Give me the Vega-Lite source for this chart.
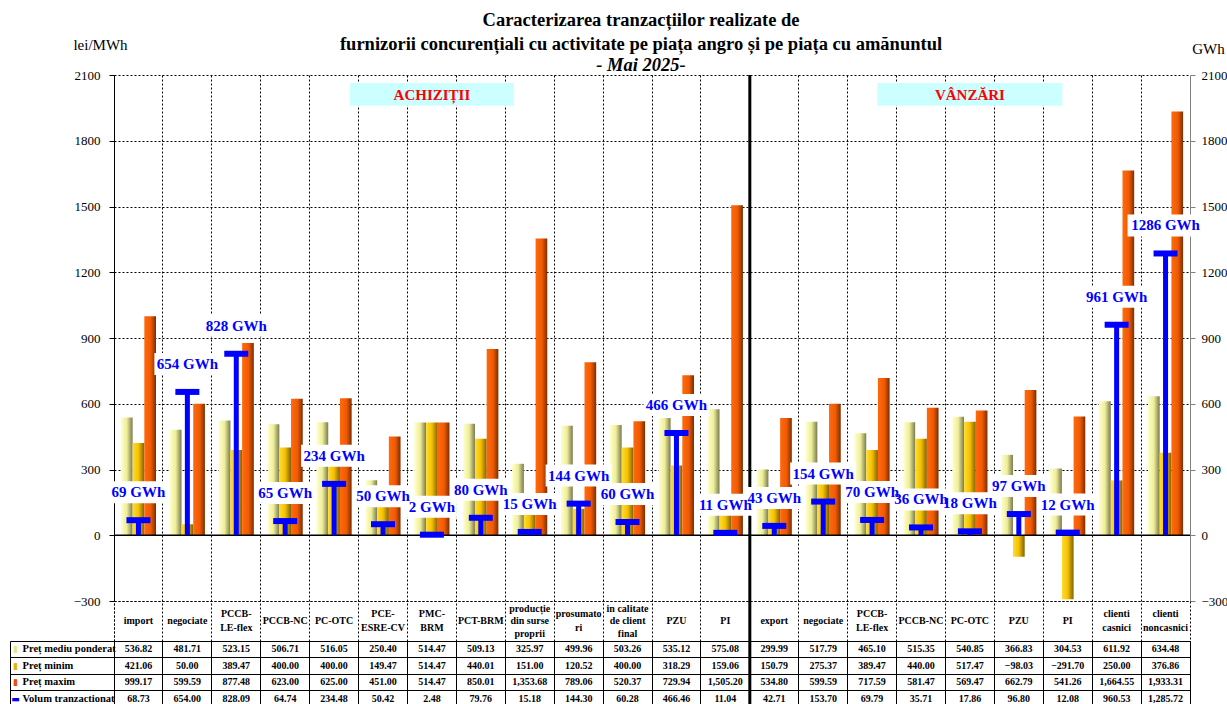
{
  "$schema": "https://vega.github.io/schema/vega-lite/v6.json",
  "background": "white",
  "padding": {"left": 9, "top": 11, "right": 0, "bottom": 0},
  "autosize": {"type": "pad"},
  "config": {
    "font": "Liberation Serif",
    "view": {"stroke": null},
    "axis": {"labelFont": "Liberation Serif", "titleFont": "Liberation Serif"}
  },
  "title": {
    "text": ["Caracterizarea tranzacțiilor realizate de", "furnizorii concurențiali cu activitate pe piața angro și pe piața cu amănuntul"],
    "subtitle": "- Mai 2025-",
    "anchor": "middle",
    "frame": "group",
    "dx": -11,
    "offset": -37,
    "font": "Liberation Serif",
    "fontSize": 18.5,
    "fontWeight": "bold",
    "lineHeight": 24,
    "color": "#000",
    "subtitleFont": "Liberation Serif",
    "subtitleFontSize": 18.5,
    "subtitleFontStyle": "italic",
    "subtitleFontWeight": "bold",
    "subtitleColor": "#000",
    "subtitlePadding": 2
  },
  "datasets": {
    "cats": [
      {"id": "A1", "label": "import", "mean": 536.82, "min": 421.06, "max": 999.17, "vol": 68.73},
      {"id": "A2", "label": "negociate", "mean": 481.71, "min": 50.00, "max": 599.59, "vol": 654.00},
      {"id": "A3", "label": "PCCB-|LE-flex", "mean": 523.15, "min": 389.47, "max": 877.48, "vol": 828.09},
      {"id": "A4", "label": "PCCB-NC", "mean": 506.71, "min": 400.00, "max": 623.00, "vol": 64.74},
      {"id": "A5", "label": "PC-OTC", "mean": 516.05, "min": 400.00, "max": 625.00, "vol": 234.48},
      {"id": "A6", "label": "PCE-|ESRE-CV", "mean": 250.40, "min": 149.47, "max": 451.00, "vol": 50.42},
      {"id": "A7", "label": "PMC-|BRM", "mean": 514.47, "min": 514.47, "max": 514.47, "vol": 2.48},
      {"id": "A8", "label": "PCT-BRM", "mean": 509.13, "min": 440.01, "max": 850.01, "vol": 79.76},
      {"id": "A9", "label": "producție|din surse|proprii", "mean": 325.97, "min": 151.00, "max": 1353.68, "vol": 15.18},
      {"id": "A10", "label": "prosumato|ri", "mean": 499.96, "min": 120.52, "max": 789.06, "vol": 144.30},
      {"id": "A11", "label": "in calitate|de client|final", "mean": 503.26, "min": 400.00, "max": 520.37, "vol": 60.28},
      {"id": "A12", "label": "PZU", "mean": 535.12, "min": 318.29, "max": 729.94, "vol": 466.46},
      {"id": "A13", "label": "PI", "mean": 575.08, "min": 159.06, "max": 1505.20, "vol": 11.04},
      {"id": "V1", "label": "export", "mean": 299.99, "min": 150.79, "max": 534.80, "vol": 42.71},
      {"id": "V2", "label": "negociate", "mean": 517.79, "min": 275.37, "max": 599.59, "vol": 153.70},
      {"id": "V3", "label": "PCCB-|LE-flex", "mean": 465.10, "min": 389.47, "max": 717.59, "vol": 69.79},
      {"id": "V4", "label": "PCCB-NC", "mean": 515.35, "min": 440.00, "max": 581.47, "vol": 35.71},
      {"id": "V5", "label": "PC-OTC", "mean": 540.85, "min": 517.47, "max": 569.47, "vol": 17.86},
      {"id": "V6", "label": "PZU", "mean": 366.83, "min": -98.03, "max": 662.79, "vol": 96.80},
      {"id": "V7", "label": "PI", "mean": 304.53, "min": -291.70, "max": 541.26, "vol": 12.08},
      {"id": "V8", "label": "clienti|casnici", "mean": 611.92, "min": 250.00, "max": 1664.55, "vol": 960.53},
      {"id": "V9", "label": "clienti|noncasnici", "mean": 634.48, "min": 376.86, "max": 1933.31, "vol": 1285.72}
    ],
    "sep": [{"id": "V1"}],
    "anno": [
      {"id": "A7", "txt": "ACHIZIȚII", "side": "A"},
      {"id": "V5", "txt": "VÂNZĂRI", "side": "V"}
    ]
  },
  "spacing": 0,
  "bounds": "flush",
  "vconcat": [
    {
      "width": 1076,
      "height": 526,
      "layer": [
        {
          "data": {"name": "cats"},
          "transform": [{"fold": ["mean", "min", "max"], "as": ["serie", "val"]}, {"filter": "datum.serie === 'mean'"}],
          "mark": {"type": "bar", "color": {"gradient": "linear", "x1": 0, "y1": 0, "x2": 1, "y2": 0, "stops": [{"offset": 0, "color": "#ffffcc"}, {"offset": 0.5, "color": "#eeee99"}, {"offset": 1, "color": "#7a7a50"}]}},
          "encoding": {
            "x": {"field": "id", "type": "nominal", "sort": null,
              "scale": {"type": "band", "domain": ["A1","A2","A3","A4","A5","A6","A7","A8","A9","A10","A11","A12","A13","V1","V2","V3","V4","V5","V6","V7","V8","V9"], "paddingInner": 0, "paddingOuter": 0},
              "axis": {"grid": true, "bandPosition": 0, "gridColor": "#000", "gridDash": [2, 2], "gridWidth": 1, "labels": false, "ticks": false, "domain": false, "title": null}},
            "xOffset": {"field": "serie", "type": "nominal", "scale": {"domain": ["mean", "min", "max"], "paddingInner": 0, "paddingOuter": 0.59}},
            "y": {"field": "val", "type": "quantitative",
              "scale": {"domain": [-300, 2100], "nice": false, "zero": false},
              "axis": {"orient": "left", "values": [-300, 0, 300, 600, 900, 1200, 1500, 1800, 2100], "format": "d", "grid": true, "gridColor": "#000", "gridDash": [2, 2], "gridWidth": 1, "domainColor": "#000", "tickColor": "#000", "tickSize": 5, "labelFontSize": 13, "labelPadding": 9, "labelColor": "#000", "title": "lei/MWh", "titleAngle": 0, "titleX": -14, "titleY": -31, "titleAlign": "center", "titleBaseline": "middle", "titleFontSize": 15, "titleFontWeight": "normal", "titleColor": "#000"}}
          }
        },
        {
          "data": {"name": "cats"},
          "transform": [{"fold": ["mean", "min", "max"], "as": ["serie", "val"]}, {"filter": "datum.serie === 'min'"}],
          "mark": {"type": "bar", "color": {"gradient": "linear", "x1": 0, "y1": 0, "x2": 1, "y2": 0, "stops": [{"offset": 0, "color": "#ffdd33"}, {"offset": 0.5, "color": "#f5c000"}, {"offset": 1, "color": "#806000"}]}},
          "encoding": {
            "x": {"field": "id", "type": "nominal"},
            "xOffset": {"field": "serie", "type": "nominal"},
            "y": {"field": "val", "type": "quantitative", "axis": null}
          }
        },
        {
          "data": {"name": "cats"},
          "transform": [{"fold": ["mean", "min", "max"], "as": ["serie", "val"]}, {"filter": "datum.serie === 'max'"}],
          "mark": {"type": "bar", "color": {"gradient": "linear", "x1": 0, "y1": 0, "x2": 1, "y2": 0, "stops": [{"offset": 0, "color": "#ff6a10"}, {"offset": 0.55, "color": "#f05a00"}, {"offset": 1, "color": "#7a2e00"}]}},
          "encoding": {
            "x": {"field": "id", "type": "nominal"},
            "xOffset": {"field": "serie", "type": "nominal"},
            "y": {"field": "val", "type": "quantitative", "axis": null}
          }
        },
        {
          "data": {"values": [{}]},
          "mark": {"type": "rule", "color": "#000", "strokeWidth": 1.5},
          "encoding": {"y": {"datum": 0, "type": "quantitative", "axis": null}}
        },
        {
          "data": {"name": "cats"},
          "mark": {"type": "rule", "color": "#0000ff", "strokeWidth": 5},
          "encoding": {
            "x": {"field": "id", "type": "nominal"},
            "y": {"field": "vol", "type": "quantitative",
              "axis": {"orient": "right", "values": [-300, 0, 300, 600, 900, 1200, 1500, 1800, 2100], "format": "d", "grid": false, "domainColor": "#808080", "tickColor": "#808080", "tickSize": 5, "labelPadding": 6, "labelFontSize": 13, "labelColor": "#000", "title": "GWh", "titleAngle": 0, "titleX": 18, "titleY": -27, "titleAlign": "center", "titleBaseline": "middle", "titleFontSize": 15, "titleFontWeight": "normal", "titleColor": "#000"}},
            "y2": {"datum": 0}
          }
        },
        {
          "data": {"name": "cats"},
          "mark": {"type": "tick", "color": "#0000ff", "thickness": 6, "size": 24, "opacity": 1},
          "encoding": {
            "x": {"field": "id", "type": "nominal"},
            "y": {"field": "vol", "type": "quantitative", "axis": null}
          }
        },
        {
          "data": {"name": "sep"},
          "mark": {"type": "rule", "color": "#000", "strokeWidth": 3},
          "encoding": {"x": {"field": "id", "type": "nominal", "bandPosition": 0}}
        },
        {
          "data": {"name": "cats"},
          "transform": [{"calculate": "format(datum.vol, '.0f') + ' GWh'", "as": "lbl"}, {"filter": "length(datum.lbl) === 5"}],
          "mark": {"type": "bar", "color": "#fff", "width": 50, "yOffset": -39, "y2Offset": -17},
          "encoding": {
            "x": {"field": "id", "type": "nominal"},
            "y": {"field": "vol", "type": "quantitative", "axis": null},
            "y2": {"field": "vol"}
          }
        },
        {
          "data": {"name": "cats"},
          "transform": [{"calculate": "format(datum.vol, '.0f') + ' GWh'", "as": "lbl"}, {"filter": "length(datum.lbl) === 6"}],
          "mark": {"type": "bar", "color": "#fff", "width": 58, "yOffset": -39, "y2Offset": -17},
          "encoding": {
            "x": {"field": "id", "type": "nominal"},
            "y": {"field": "vol", "type": "quantitative", "axis": null},
            "y2": {"field": "vol"}
          }
        },
        {
          "data": {"name": "cats"},
          "transform": [{"calculate": "format(datum.vol, '.0f') + ' GWh'", "as": "lbl"}, {"filter": "length(datum.lbl) === 7"}],
          "mark": {"type": "bar", "color": "#fff", "width": 66, "yOffset": -39, "y2Offset": -17},
          "encoding": {
            "x": {"field": "id", "type": "nominal"},
            "y": {"field": "vol", "type": "quantitative", "axis": null},
            "y2": {"field": "vol"}
          }
        },
        {
          "data": {"name": "cats"},
          "transform": [{"calculate": "format(datum.vol, '.0f') + ' GWh'", "as": "lbl"}, {"filter": "length(datum.lbl) === 8"}],
          "mark": {"type": "bar", "color": "#fff", "width": 76, "yOffset": -39, "y2Offset": -17},
          "encoding": {
            "x": {"field": "id", "type": "nominal"},
            "y": {"field": "vol", "type": "quantitative", "axis": null},
            "y2": {"field": "vol"}
          }
        },
        {
          "data": {"name": "cats"},
          "transform": [{"calculate": "format(datum.vol, '.0f') + ' GWh'", "as": "lbl"}],
          "mark": {"type": "text", "color": "#0000ff", "fontSize": 15, "fontWeight": "bold", "yOffset": -28, "baseline": "middle"},
          "encoding": {
            "x": {"field": "id", "type": "nominal"},
            "y": {"field": "vol", "type": "quantitative", "axis": null},
            "text": {"field": "lbl"}
          }
        },
        {
          "data": {"name": "anno"},
          "transform": [{"filter": "datum.side === 'A'"}],
          "mark": {"type": "bar", "color": "#ccffff", "width": 164},
          "encoding": {
            "x": {"field": "id", "type": "nominal"},
            "y": {"datum": 1960, "type": "quantitative", "axis": null},
            "y2": {"datum": 2063}
          }
        },
        {
          "data": {"name": "anno"},
          "transform": [{"filter": "datum.side === 'V'"}],
          "mark": {"type": "bar", "color": "#ccffff", "width": 185},
          "encoding": {
            "x": {"field": "id", "type": "nominal"},
            "y": {"datum": 1960, "type": "quantitative", "axis": null},
            "y2": {"datum": 2063}
          }
        },
        {
          "data": {"name": "anno"},
          "mark": {"type": "text", "color": "#ff0000", "fontSize": 15, "fontWeight": "bold", "baseline": "middle"},
          "encoding": {
            "x": {"field": "id", "type": "nominal"},
            "y": {"datum": 2011, "type": "quantitative", "axis": null},
            "text": {"field": "txt"}
          }
        }
      ],
      "resolve": {"axis": {"y": "independent"}}
    },
    {
      "width": 1076,
      "height": 40,
      "view": {"stroke": "#000", "strokeDash": [2, 2]},
      "layer": [
        {
          "data": {"name": "cats"},
          "transform": [{"filter": "indexof(datum.label, '|') < 0"}],
          "mark": {"type": "text", "fontSize": 10, "fontWeight": "bold", "color": "#000", "baseline": "middle"},
          "encoding": {
            "x": {"field": "id", "type": "nominal", "sort": null,
              "scale": {"type": "band", "domain": ["A1","A2","A3","A4","A5","A6","A7","A8","A9","A10","A11","A12","A13","V1","V2","V3","V4","V5","V6","V7","V8","V9"], "paddingInner": 0, "paddingOuter": 0},
              "axis": {"grid": true, "bandPosition": 0, "gridColor": "#000", "gridDash": [2, 2], "gridWidth": 1, "labels": false, "ticks": false, "domain": false, "title": null}},
            "text": {"field": "label"}
          }
        },
        {
          "data": {"name": "cats"},
          "transform": [{"filter": "indexof(datum.label, '|') >= 0 && indexof(datum.label, '|') === lastindexof(datum.label, '|')"}],
          "mark": {"type": "text", "lineBreak": "|", "fontSize": 10, "fontWeight": "bold", "lineHeight": 14, "color": "#000", "baseline": "middle", "yOffset": -7},
          "encoding": {
            "x": {"field": "id", "type": "nominal"},
            "text": {"field": "label"}
          }
        },
        {
          "data": {"name": "cats"},
          "transform": [{"filter": "indexof(datum.label, '|') !== lastindexof(datum.label, '|')"}],
          "mark": {"type": "text", "lineBreak": "|", "fontSize": 10, "fontWeight": "bold", "lineHeight": 12.5, "color": "#000", "baseline": "middle", "yOffset": -12.5},
          "encoding": {
            "x": {"field": "id", "type": "nominal"},
            "text": {"field": "label"}
          }
        },
        {
          "data": {"name": "sep"},
          "mark": {"type": "rule", "color": "#000", "strokeWidth": 3},
          "encoding": {"x": {"field": "id", "type": "nominal", "bandPosition": 0}}
        }
      ]
    },
    {
      "width": 1076,
      "height": 66,
      "view": {"stroke": "#000"},
      "layer": [
        {
          "data": {"name": "cats"},
          "transform": [{"fold": ["mean", "min", "max", "vol"], "as": ["serie", "val"]}],
          "mark": {"type": "text", "fontSize": 10, "fontWeight": "bold", "color": "#000", "baseline": "middle"},
          "encoding": {
            "x": {"field": "id", "type": "nominal", "sort": null,
              "scale": {"type": "band", "domain": ["A1","A2","A3","A4","A5","A6","A7","A8","A9","A10","A11","A12","A13","V1","V2","V3","V4","V5","V6","V7","V8","V9"], "paddingInner": 0, "paddingOuter": 0},
              "axis": {"grid": true, "bandPosition": 0, "gridColor": "#000", "gridWidth": 1, "labels": false, "ticks": false, "domain": false, "title": null}},
            "y": {"field": "serie", "type": "nominal",
              "scale": {"type": "band", "domain": ["mean", "min", "max", "vol"], "paddingInner": 0, "paddingOuter": 0},
              "axis": {"orient": "left", "grid": false, "ticks": false, "domain": false,
                "labelExpr": "datum.value === 'mean' ? 'Preț mediu ponderat' : datum.value === 'min' ? 'Preț minim' : datum.value === 'max' ? 'Preț maxim' : 'Volum tranzactionat'",
                "labelAlign": "left", "labelPadding": 92, "labelBaseline": "middle", "labelFontSize": 10.5, "labelFontWeight": "bold", "labelColor": "#000", "title": null}},
            "text": {"field": "val", "type": "quantitative", "format": ",.2f"}
          }
        },
        {
          "data": {"name": "cats"},
          "transform": [{"fold": ["mean", "min", "max", "vol"], "as": ["serie", "val"]}],
          "mark": {"type": "text", "text": ""},
          "encoding": {
            "y": {"field": "serie", "type": "nominal",
              "scale": {"type": "band", "domain": ["mean", "min", "max", "vol"], "paddingInner": 0, "paddingOuter": 0},
              "axis": {"orient": "left", "offset": 104, "ticks": false, "grid": false, "domainColor": "#000",
                "labelExpr": "datum.value === 'vol' ? '▬' : '▮'",
                "labelFont": "DejaVu Sans", "labelFontSize": 9, "labelAlign": "center", "labelBaseline": "middle", "labelPadding": -5,
                "labelColor": {"condition": [{"test": "datum.value === 'mean'", "value": "#e5e58a"}, {"test": "datum.value === 'min'", "value": "#e6b400"}, {"test": "datum.value === 'max'", "value": "#e05500"}], "value": "#0000ff"},
                "title": null}}
          }
        },
        {
          "data": {"name": "cats"},
          "transform": [{"fold": ["mean", "min", "max", "vol"], "as": ["serie", "val"]}],
          "mark": {"type": "text", "text": ""},
          "encoding": {
            "y": {"field": "serie", "type": "nominal",
              "scale": {"type": "band", "domain": ["mean", "min", "max", "vol"], "paddingInner": 0, "paddingOuter": 0},
              "axis": {"orient": "left", "bandPosition": 0, "labels": false, "ticks": true, "tickSize": 104, "tickColor": "#000", "tickWidth": 1, "grid": true, "gridColor": "#000", "gridWidth": 1, "domain": true, "domainColor": "#000", "title": null}}
          }
        },
        {
          "data": {"name": "sep"},
          "mark": {"type": "rule", "color": "#000", "strokeWidth": 3},
          "encoding": {"x": {"field": "id", "type": "nominal", "bandPosition": 0}}
        }
      ],
      "resolve": {"scale": {"y": "independent"}}
    }
  ]
}
